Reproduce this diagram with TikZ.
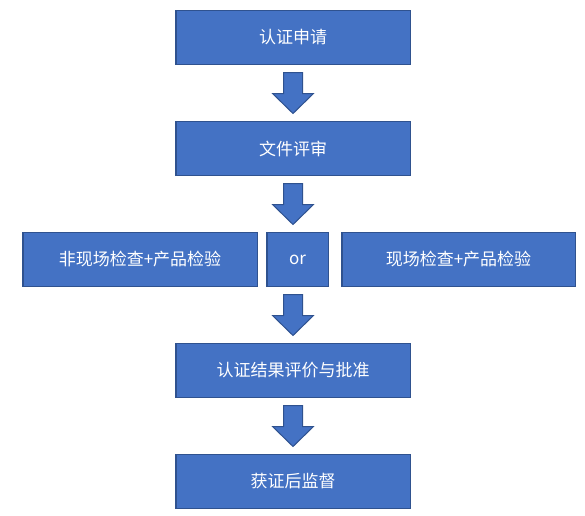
\documentclass[tikz,border=0pt]{standalone}
\usepackage{fontspec}
\setmainfont{Noto Sans CJK SC}
\usetikzlibrary{positioning,calc}

\definecolor{boxblue}{HTML}{4472C4}
\definecolor{edgeblue}{HTML}{2F528F}

\begin{document}
\begin{tikzpicture}[x=1pt,y=-1pt,node distance=55.5pt,
    stage/.style={draw=edgeblue,fill=boxblue,line width=1.5pt,
      minimum width=234.5pt,minimum height=54pt,inner sep=0pt,
      text=white,font=\fontsize{17}{20}\selectfont},
    flow/.style={draw=edgeblue,fill=boxblue,line width=1pt,line join=miter}]
    \useasboundingbox (0,0) rectangle (585,515);

    \node[stage] (apply) at (293,37.5) {认证申请};
    \node[stage] (review) [below=of apply] {文件评审};
    \node[stage,minimum width=61.5pt] (or) [below=of review,xshift=4.5pt] {or};
    \node[stage] (offsite) [left=8pt of or] {非现场检查+产品检验};
    \node[stage,minimum width=233.5pt] (onsite) [right=12pt of or] {现场检查+产品检验};
    \node[stage] (result) [below=of or,xshift=-4.5pt] {认证结果评价与批准};
    \node[stage] (after) [below=of result] {获证后监督};

    % block arrows between the stages
    \foreach \a/\b in {apply/review,review/or,or/result,result/after}
      \draw[flow] ($(apply.south |- \a.south)!.5!(apply.south |- \b.north)$)
        ++(-9.5,-20.5) -- ++(19,0) -- ++(0,21) -- ++(11,0)
        -- ++(-20.5,20) -- ++(-20.5,-20) -- ++(11,0) -- cycle;
\end{tikzpicture}
\end{document}
